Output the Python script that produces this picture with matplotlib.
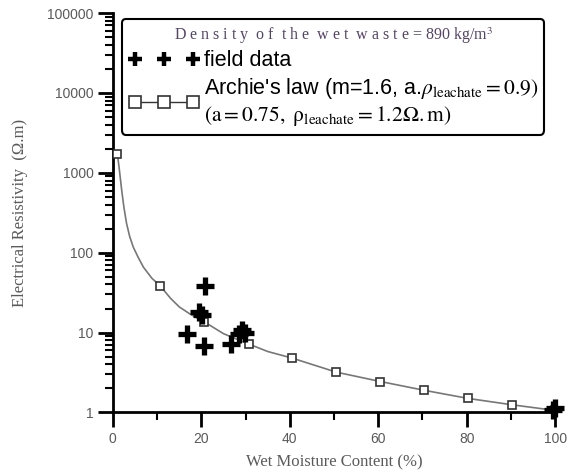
import matplotlib
matplotlib.use("Agg")
import matplotlib.pyplot as plt
from matplotlib.ticker import LogLocator, NullFormatter, MultipleLocator

# Archie's law markers
archie_x = [1, 10.7, 20.7, 30.7, 40.5, 50.5, 60.5, 70.3, 80.3, 90.2, 100]
archie_y = [1740, 38.5, 13.6, 7.2, 4.8, 3.2, 2.44, 1.9, 1.5, 1.25, 1.06]

# model curve through the markers
curve_x = [1, 1.4, 2, 2.5, 3.1, 3.8, 4.6, 5.7, 6.9, 8.8, 10.7, 13, 15, 17.5, 20.7,
           25, 30.7, 35, 40.5, 50.5, 60.5, 70.3, 80.3, 90.2, 100]
curve_y = [1740, 1180, 603, 370, 232, 160, 118, 88, 66, 48, 38.5, 27, 21, 17, 13.6,
           9.7, 7.2, 5.8, 4.8, 3.2, 2.44, 1.9, 1.5, 1.25, 1.06]

# field data crosses
field_x = [20.9, 19.5, 20.1, 16.7, 20.6, 26.8, 29.2, 29.9, 28.6, 100, 99.6]
field_y = [38, 18, 16.5, 9.7, 6.8, 7.3, 10.7, 10.0, 9.7, 1.15, 1.08]

plt.rcParams['mathtext.fontset'] = 'stix'
tick_color = '#5a5a5a'

fig = plt.figure(figsize=(5.7, 4.75), dpi=100)
ax = fig.add_axes([0.198, 0.1316, 0.776, 0.8410])

ax.plot(curve_x, curve_y, color='#777777', lw=1.2, zorder=2)
sq, = ax.plot(archie_x, archie_y, ls='none', marker='s', ms=6, mfc='white',
              mec='#333333', mew=1.2, zorder=3)
cr, = ax.plot(field_x, field_y, ls='none', marker='+', ms=13, color='black',
              mew=3.8, zorder=4, clip_on=False)

ax.set_yscale('log')
ax.set_xlim(0, 100)
ax.set_ylim(1, 100000)

ax.xaxis.set_major_locator(MultipleLocator(20))
ax.xaxis.set_minor_locator(MultipleLocator(10))
ax.yaxis.set_minor_locator(LogLocator(base=10, subs=range(2, 10), numticks=20))
ax.yaxis.set_minor_formatter(NullFormatter())
ax.set_yticks([1, 10, 100, 1000, 10000, 100000])
ax.set_yticklabels(['1', '10', '100', '1000', '10000', '100000'])

for s in ['top', 'right']:
    ax.spines[s].set_visible(False)
for s in ['left', 'bottom']:
    ax.spines[s].set_linewidth(2)

ax.tick_params(which='major', direction='out', length=11, width=2,
               labelsize=10, labelcolor=tick_color, pad=3)
ax.tick_params(which='minor', direction='out', length=6, width=1.5)
for lab in ax.get_xticklabels() + ax.get_yticklabels():
    lab.set_family('Liberation Sans')

ax.set_xlabel('Wet Moisture Content (%)', family='Liberation Serif',
              fontsize=12, color=tick_color, labelpad=6)
ax.set_ylabel('Electrical Resistivity  (Ω.m)', family='Liberation Serif',
              fontsize=12, color=tick_color, labelpad=14)

archie_label = ("Archie's law (m=1.6, a." + r"$\rho_{\mathrm{leachate}}\mathrm{=0.9)}$" + "\n"
                + r"$\mathrm{(a=0.75,\ \rho_{leachate}=1.2\Omega.m)}$")
leg = ax.legend([cr, sq], ['field data', archie_label],
                loc='upper left', bbox_to_anchor=(0.02, 0.985), borderaxespad=0,
                numpoints=3, handlelength=3.3, handletextpad=0.2,
                fontsize=15.5, frameon=True, fancybox=True, framealpha=1,
                edgecolor='black', borderpad=0.3, labelspacing=0.2,
                title=r"D e n s i t y  o f  t h e  w e t  w a s t e = 890 kg/m$^3$",
                title_fontproperties={'family': 'Liberation Serif', 'size': 11.5})
leg.get_title().set_color('#554466')
leg.get_frame().set_linewidth(1.5)
for t in leg.get_texts():
    t.set_family('Liberation Sans')
h_cross, h_sq = leg.legend_handles
h_cross.set_markersize(10)
h_cross.set_markeredgewidth(3.2)
h_sq.set_linestyle('-')
h_sq.set_color('#333333')
h_sq.set_markerfacecolor('white')
h_sq.set_markersize(9)
h_sq.set_linewidth(1.0)

fig.savefig('out.png', dpi=100)
